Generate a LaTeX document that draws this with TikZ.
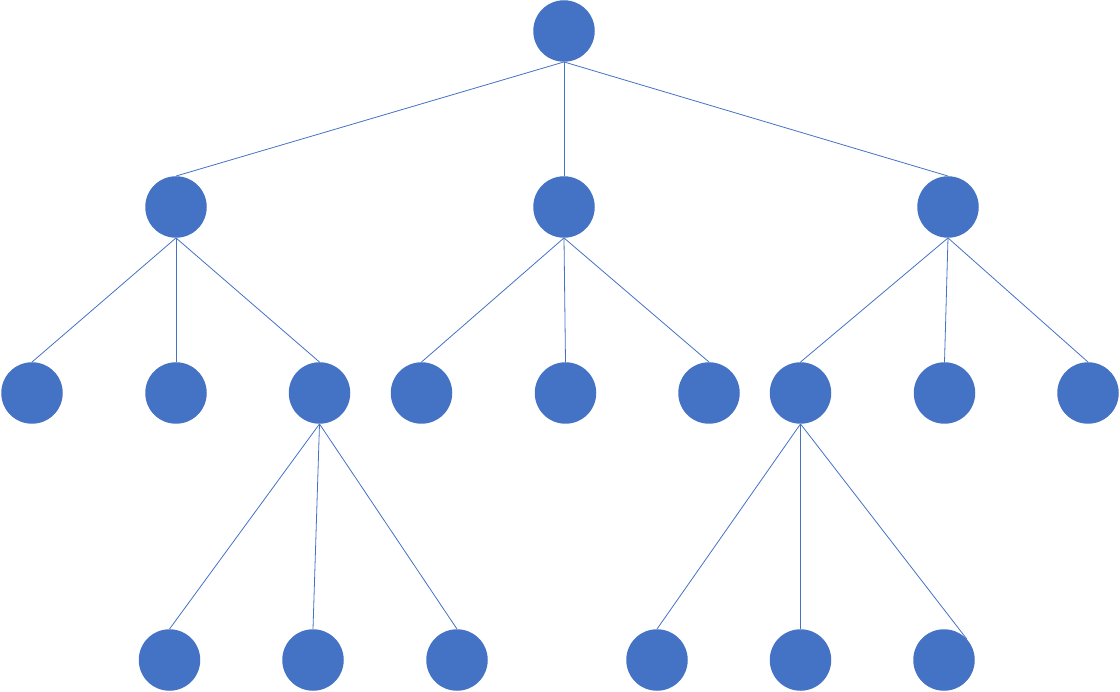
\documentclass[tikz,border=0pt]{standalone}
\definecolor{nodeblue}{HTML}{4472C4}
\begin{document}
\begin{tikzpicture}[x=1pt,y=-1pt,
  dot/.style={circle,fill=nodeblue,inner sep=0pt,minimum size=61.5pt},
  edge/.style={draw=nodeblue,line width=0.8pt}]
\useasboundingbox (0,0) rectangle (1120,692);
% nodes
\node[dot] (r) at (564,31) {};
\node[dot] (a) at (176,207) {};
\node[dot] (b) at (564,207) {};
\node[dot] (c) at (948,207) {};
\node[dot] (a1) at (32,393) {};
\node[dot] (a2) at (176,393) {};
\node[dot] (a3) at (319.5,393) {};
\node[dot] (b1) at (421.5,393) {};
\node[dot] (b2) at (565.5,393) {};
\node[dot] (b3) at (709,393) {};
\node[dot] (c1) at (800.5,393) {};
\node[dot] (c2) at (944.5,393) {};
\node[dot] (c3) at (1088,393) {};
\node[dot] (d1) at (169.5,660) {};
\node[dot] (d2) at (313,660) {};
\node[dot] (d3) at (457,660) {};
\node[dot] (e1) at (657,660) {};
\node[dot] (e2) at (800.5,660) {};
\node[dot] (e3) at (944,660) {};
% edges
\begin{scope}[on background layer/.style={}]
\draw[edge] (r.south) -- (a.north);
\draw[edge] (r.south) -- (b.north);
\draw[edge] (r.south) -- (c.north);
\draw[edge] (a.south) -- (a1.north);
\draw[edge] (a.south) -- (a2.north);
\draw[edge] (a.south) -- (a3.north);
\draw[edge] (b.south) -- (b1.north);
\draw[edge] (b.south) -- (b2.north);
\draw[edge] (b.south) -- (b3.north);
\draw[edge] (c.south) -- (c1.north);
\draw[edge] (c.south) -- (c2.north);
\draw[edge] (c.south) -- (c3.north);
\draw[edge] (a3.south) -- (d1.north);
\draw[edge] (a3.south) -- (d2.north);
\draw[edge] (a3.south) -- (d3.north);
\draw[edge] (c1.south) -- (e1.north);
\draw[edge] (c1.south) -- (e2.north);
\draw[edge] (c1.south) -- (e3.42);
\end{scope}
\end{tikzpicture}
\end{document}
